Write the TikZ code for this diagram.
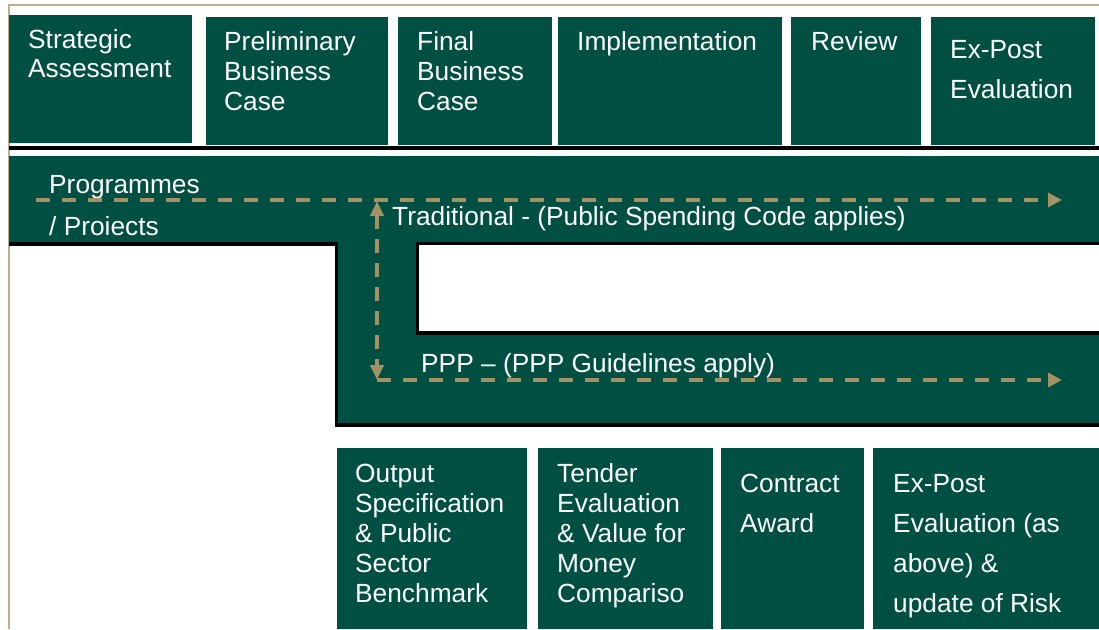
\documentclass[tikz,border=0pt]{standalone}
\usepackage{fontspec}
\setmainfont{Liberation Sans}
\usetikzlibrary{
  arrows.meta
}
\definecolor{stagegreen}{RGB}{0,79,67}
\definecolor{routetan}{RGB}{164,146,100}
\definecolor{frametan}{RGB}{190,176,140}

\begin{document}
\begin{tikzpicture}[
  x=1pt, y=-1pt,
  stage/.style={fill=stagegreen, inner sep=0pt, anchor=north west},
  % anchored at the baseline of the last line
  stagetext/.style={anchor=base west, align=left, inner sep=0pt, text=white,
    font=\fontsize{26.3}{30}\selectfont},
  widetext/.style={stagetext, font=\fontsize{26.3}{40}\selectfont},
  rim/.style={line width=3.5pt},
  route/.style={routetan, line width=4pt, dash pattern=on 14pt off 12pt},
]
\useasboundingbox (0,0) rectangle (1099,629);
\fill[white] (0,0) rectangle (1099,629);
\draw[frametan, line width=1.5pt] (9,629) -- (9,5) -- (1099,5);

% stages
\node[stage, minimum width=183pt, minimum height=128pt] (strategic) at (9,15) {};
\node[stage, minimum width=182pt, minimum height=128pt] (prelim) at (206,17) {};
\node[stage, minimum width=154pt, minimum height=128pt] (final) at (398,17) {};
\node[stage, minimum width=224pt, minimum height=128pt] (implement) at (558,17) {};
\node[stage, minimum width=130pt, minimum height=128pt] (review) at (791,17) {};
\node[stage, minimum width=164pt, minimum height=128pt] (expost) at (931,17) {};
\node[stagetext, font=\fontsize{26.3}{29}\selectfont] (strategic-t) at (28,77) {Strategic\\Assessment};
\node[stagetext] (prelim-t) at (224,110) {Preliminary\\Business\\Case};
\node[stagetext] (final-t) at (417,110) {Final\\Business\\Case};
\node[stagetext] (implement-t) at (577,50) {Implementation};
\node[stagetext] (review-t) at (811,50) {Review};
\node[widetext] (expost-t) at (950,98) {Ex-Post\\Evaluation};
\draw[line width=4pt] (9,147.5) -- (1099,147.5);

% band
\fill[stagegreen] (9,156) -- (1099,156) -- (1099,425) -- (336.5,425)
  -- (336.5,244) -- (9,244) -- cycle;
\fill[white] (417.5,243.5) rectangle (1099,333);
\draw[rim] (9,244) -- (336.5,244) -- (336.5,425) -- (1099,425);
\draw[rim] (1099,243.5) -- (417.5,243.5) -- (417.5,333) -- (1099,333);

\node[stagetext] (prog-t) at (49,193) {Programmes};
\node[stagetext] (proj-t) at (49,235) {/ Proiects};
\node[stagetext] (trad-t) at (392,225) {Traditional - (Public Spending Code applies)};
\node[stagetext] (ppp-t) at (421,372) {PPP – (PPP Guidelines apply)};

\coordinate (progstart) at (36,200);
\coordinate (progend) at (1062,200);
\coordinate (splittop) at (377,201);
\coordinate (splitbot) at (377,380);
\coordinate (pppend) at (1062,380);
\draw[route, -{Triangle[length=14pt,width=14pt]}] (progstart) -- (progend);
\draw[route, dash pattern=on 14pt off 10pt,
  {Triangle[length=15pt,width=13pt]}-{Triangle[length=15pt,width=13pt]}]
  (splittop) -- (splitbot);
\draw[route, -{Triangle[length=14pt,width=14pt]}] (splitbot) -- (pppend);

% PPP steps
\node[stage, minimum width=190pt, minimum height=181pt] (outspec) at (337,448) {};
\node[stage, minimum width=175pt, minimum height=181pt] (tender) at (538,448) {};
\node[stage, minimum width=143pt, minimum height=181pt] (award) at (721,448) {};
\node[stage, minimum width=226pt, minimum height=181pt] (riskupd) at (873,448) {};
\node[stagetext] (outspec-t) at (355,602) {Output\\Specification\\\& Public\\Sector\\Benchmark};
\node[stagetext] (tender-t) at (557,602) {Tender\\Evaluation\\\& Value for\\Money\\Compariso};
\node[widetext] (award-t) at (740,532) {Contract\\Award};
\node[widetext] (riskupd-t) at (893,612) {Ex-Post\\Evaluation (as\\above) \&\\update of Risk};
\end{tikzpicture}
\end{document}
